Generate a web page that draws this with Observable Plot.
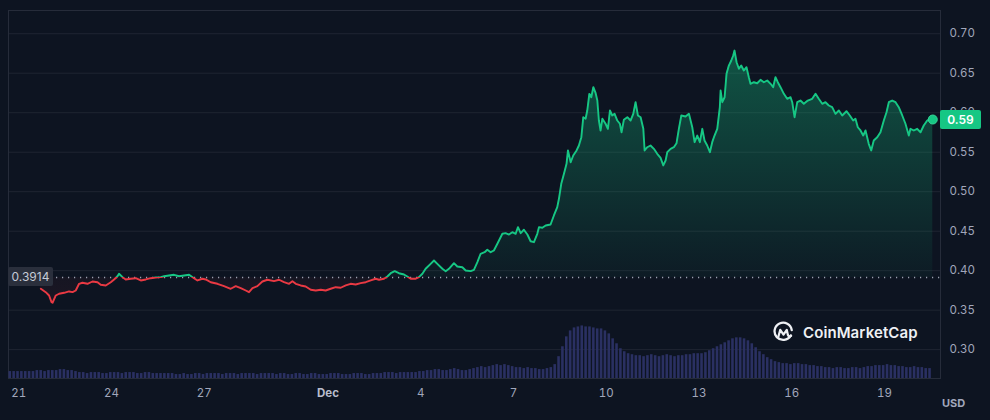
<!DOCTYPE html>
<html><head><meta charset="utf-8">
<script src="https://cdn.jsdelivr.net/npm/d3@7"></script>
<script src="https://cdn.jsdelivr.net/npm/@observablehq/plot@0.6"></script>
<style>
html,body{margin:0;padding:0;background:#0d1421;}
#chart{position:relative;width:990px;height:420px;background:#0d1421;font-family:Inter,"Noto Sans",sans-serif;overflow:hidden}
#chart svg{position:absolute;left:0;top:0}
.box{position:absolute;display:flex;align-items:center;justify-content:center;font-size:12px;border-radius:2px}
</style></head><body><div id="chart"></div>
<script>
// ---------- data ----------
const startUTC = Date.UTC(2023, 10, 21);          // Nov 21, 00:00
const windowStartHour = -8, windowEndHour = 715.5; // visible time window (hours from Nov 21)
const priceHours = [
17.1,20.9,23.5,25.4,26.2,28.7,31.3,35.2,39.0,41.7,
44.2,46.8,49.4,53.3,57.2,61.1,63.6,67.5,71.4,74.0,
76.6,77.8,80.5,83.0,86.9,90.8,94.7,98.6,102.4,106.3,
110.2,112.8,116.6,120.5,124.4,128.3,132.2,136.0,138.7,142.6,
145.1,149.0,154.2,159.3,164.5,168.4,172.3,176.2,178.7,181.4,
185.2,189.1,193.0,198.1,202.0,205.9,209.8,212.4,215.0,
218.8,222.7,226.6,230.5,234.4,238.2,242.1,246.0,249.9,253.8,
257.6,261.5,265.4,269.3,273.2,277.0,279.6,283.5,286.1,288.7,
291.8,295.1,299.0,301.6,304.2,308.1,310.6,313.3,315.8,319.7,
322.3,324.9,328.8,331.4,333.9,337.8,340.4,344.3,346.9,350.8,
353.3,356.0,358.5,361.6,363.7,366.3,368.8,371.5,375.4,377.9,
380.5,383.1,385.7,387.5,389.6,392.1,394.8,397.3,399.9,402.5,
403.8,406.4,409.0,412.8,415.4,418.0,419.3,421.1,423.2,425.2,
426.3,428.4,430.4,433.0,434.8,436.7,438.2,440.0,441.3,442.9,
444.4,446.0,447.8,449.1,450.3,451.6,453.0,455.5,457.3,458.9,
460.7,462.5,464.6,466.6,467.9,469.7,472.4,474.9,477.0,478.8,
480.6,482.7,484.8,485.8,487.9,490.4,493.0,495.6,498.2,500.3,
502.1,503.4,506.0,508.5,510.6,512.4,514.3,517.6,520.2,522.8,
524.6,526.7,528.7,530.6,532.3,534.4,536.5,538.3,540.1,542.2,
544.2,544.8,546.1,547.9,549.4,551.2,553.1,554.6,555.6,557.2,
559.0,560.8,562.8,564.9,566.7,568.0,570.6,573.2,575.8,578.4,
581.0,583.6,585.6,587.4,589.2,591.3,593.9,596.5,599.1,600.4,
602.2,604.3,606.8,609.4,612.5,615.9,618.5,621.0,623.7,626.2,
628.8,631.4,634.0,636.6,639.2,642.5,645.1,647.7,649.5,651.3,
653.4,655.5,657.3,659.8,661.7,663.7,666.4,668.9,671.5,673.6,
675.4,678.0,680.6,683.1,685.8,688.3,690.9,692.2,694.8,697.4,
700.0,702.5,705.2,707.7,709.5];
const priceValues = [
0.3771,0.3728,0.3686,0.3601,0.3594,0.3686,0.3708,0.3720,0.3737,0.3728,
0.3749,0.3834,0.3847,0.3834,0.3863,0.3854,0.3822,0.3813,0.3854,0.3889,
0.3930,0.3961,0.3918,0.3889,0.3898,0.3905,0.3876,0.3889,0.3905,0.3914,
0.3918,0.3930,0.3939,0.3948,0.3930,0.3939,0.3948,0.3905,0.3876,0.3898,
0.3889,0.3854,0.3834,0.3804,0.3771,0.3804,0.3779,0.3749,0.3728,0.3779,
0.3804,0.3863,0.3885,0.3867,0.3885,0.3854,0.3834,0.3867,0.3834,
0.3813,0.3800,0.3758,0.3749,0.3758,0.3749,0.3771,0.3791,0.3784,0.3813,
0.3834,0.3825,0.3842,0.3854,0.3876,0.3898,0.3885,0.3898,0.3927,0.3968,
0.3994,0.3968,0.3952,0.3927,0.3898,0.3898,0.3918,0.3961,0.4024,0.4087,
0.4129,0.4087,0.4024,0.3994,0.4024,0.4095,0.4053,0.4044,0.4003,0.3994,
0.4011,0.4108,0.4214,0.4234,0.4265,0.4234,0.4256,0.4341,0.4467,0.4475,
0.4458,0.4487,0.4467,0.4551,0.4475,0.4518,0.4458,0.4373,0.4361,0.4467,
0.4551,0.4543,0.4572,0.4585,0.4699,0.4804,0.4910,0.5100,0.5227,0.5353,
0.5522,0.5373,0.5458,0.5522,0.5585,0.5690,0.5943,0.5923,0.6028,0.6239,
0.6196,0.6323,0.6247,0.6154,0.5901,0.5775,0.5923,0.5860,0.5796,0.6028,
0.5965,0.5986,0.5901,0.5860,0.5753,0.5910,0.5943,0.5901,0.5986,0.6133,
0.5965,0.5943,0.5796,0.5522,0.5563,0.5585,0.5543,0.5480,0.5429,0.5332,
0.5395,0.5500,0.5543,0.5563,0.5614,0.5796,0.5965,0.5952,0.5986,0.5816,
0.5627,0.5711,0.5627,0.5796,0.5648,0.5585,0.5500,0.5627,0.5711,0.5796,
0.6070,0.6281,0.6133,0.6196,0.6492,0.6597,0.6661,0.6724,0.6787,0.6639,
0.6556,0.6597,0.6534,0.6576,0.6449,0.6366,0.6386,0.6373,0.6416,0.6386,
0.6408,0.6366,0.6323,0.6449,0.6386,0.6323,0.6239,0.6176,0.6196,0.6133,
0.5943,0.6133,0.6154,0.6113,0.6154,0.6176,0.6239,0.6176,0.6113,0.6133,
0.6091,0.6070,0.5986,0.6028,0.5965,0.6019,0.5965,0.5901,0.5923,0.5816,
0.5775,0.5711,0.5775,0.5606,0.5522,0.5648,0.5690,0.5753,0.5901,0.6006,
0.6133,0.6154,0.6133,0.6070,0.5965,0.5860,0.5711,0.5796,0.5775,0.5796,
0.5753,0.5838,0.5901,0.5923,0.5914];
const baselinePrice = 0.3914;
const lastPriceLabel = "0.59";
const volumeStartHour = -8, volumeStepHours = 3;
const volumeValues = [ // M USD per 3h
7,7,7,7,7,7,7,8,8,7,8,8,8,9,9,8,8,7,
6,6,5,6,6,6,5,5,6,6,6,5,6,6,6,5,5,6,6,5,5,5,5,5,
5,4,4,5,4,4,5,5,4,5,5,5,5,4,5,5,5,4,5,5,5,5,4,5,5,5,5,4,5,5,
4,4,5,5,4,4,5,5,4,4,4,5,5,5,4,4,4,5,5,5,4,4,
5,5,5,6,6,6,5,6,6,6,6,6,7,
7,8,8,9,9,8,8,9,10,9,8,8,9,
10,11,12,11,12,13,14,13,
14,13,12,11,11,10,11,10,
10,9,9,10,11,
14,22,32,42,
48,51,52,53,52,52,51,50,50,48,
45,40,35,30,27,
25,24,23,23,22,23,24,23,22,23,24,23,22,23,23,24,24,25,
25,25,
26,28,30,32,34,36,38,40,41,41,40,38,35,31,27,24,21,19,17,16,
15,15,14,15,15,14,14,13,13,12,12,
11,11,10,11,11,10,10,11,11,10,11,12,
12,13,13,13,14,13,13,12,
12,11,11,12,11,11,10,10];
const yTicks = [0.30,0.35,0.40,0.45,0.50,0.55,0.60,0.65,0.70];
const yDomain = [0.2635, 0.7294];
const xTickDates = ["2023-11-21","2023-11-24","2023-11-27","2023-12-01","2023-12-04","2023-12-07","2023-12-10","2023-12-13","2023-12-16","2023-12-19"];
const currencyLabel = "USD";
const brandName = "CoinMarketCap";

// ---------- build ----------
const W = 990, H = 420;
const M = {marginTop: 10, marginRight: 50, marginBottom: 42, marginLeft: 8};
const toDate = h => new Date(startUTC + h * 3600e3);
const price = priceHours.map((h, i) => ({date: toDate(h), price: priceValues[i]}));
const volume = volumeValues.map((v, i) => ({
  d1: toDate(volumeStartHour + i * volumeStepHours),
  d2: toDate(volumeStartHour + (i + 1) * volumeStepHours), v}));
const xDomain = [toDate(windowStartHour), toDate(windowEndHour)];
const xTicks = xTickDates.map(s => new Date(s + "T00:00:00Z"));
const GREEN = "#16c784", RED = "#ea3943", TXT = "#a1a7bb";

const chart = document.getElementById("chart");

const pricePlot = Plot.plot({
  width: W, height: H, ...M,
  style: {background: "transparent", color: TXT, fontFamily: "Inter, 'Noto Sans', sans-serif", fontSize: "11.5px"},
  x: {type: "utc", domain: xDomain, label: null},
  y: {domain: yDomain, label: null},
  marks: [
    Plot.ruleY(yTicks, {stroke: "#1f2532", strokeWidth: 1}),
    Plot.frame({stroke: "#262c3a"}),
    Plot.areaY(price, {x: "date", y1: () => baselinePrice, y2: "price", fill: "url(#areaGrad)"}),
    Plot.ruleY([baselinePrice], {stroke: "#9aa0b0", strokeDasharray: "1.2,4.8", strokeWidth: 1.4}),
    Plot.lineY(price, {x: "date", y: "price", stroke: "url(#lineGrad)", strokeWidth: 1.9}),
    Plot.dot(price.slice(-1), {x: "date", y: "price", r: 4.5, fill: GREEN, stroke: "#35d597", strokeWidth: 1}),
    Plot.axisY({anchor: "right", label: null, ticks: yTicks, tickSize: 0, tickPadding: 9, tickFormat: d => d.toFixed(2)}),
    Plot.axisX({label: null, ticks: xTicks, tickSize: 0, tickPadding: 10,
      tickFormat: d => d.getUTCDate() === 1 ? d3.utcFormat("%b")(d) : String(d.getUTCDate())})
  ]
});

const ys = pricePlot.scale("y");
const yb = ys.apply(baselinePrice);
const yTop = ys.apply(d3.max(priceValues));
const NS = "http://www.w3.org/2000/svg";
const defs = document.createElementNS(NS, "defs");
const fb = (yb / H).toFixed(4);
const fa = ((yb - yTop) / (H - yTop)).toFixed(4);
defs.innerHTML =
 `<linearGradient id="lineGrad" gradientUnits="userSpaceOnUse" x1="0" x2="0" y1="0" y2="${H}">
   <stop offset="0" stop-color="${GREEN}"/><stop offset="${fb}" stop-color="${GREEN}"/>
   <stop offset="${fb}" stop-color="${RED}"/><stop offset="1" stop-color="${RED}"/></linearGradient>
  <linearGradient id="areaGrad" gradientUnits="userSpaceOnUse" x1="0" x2="0" y1="${yTop}" y2="${H}">
   <stop offset="0" stop-color="${GREEN}" stop-opacity="0.36"/>
   <stop offset="${fa}" stop-color="${GREEN}" stop-opacity="0.04"/>
   <stop offset="${fa}" stop-color="${RED}" stop-opacity="0.04"/>
   <stop offset="1" stop-color="${RED}" stop-opacity="0.18"/></linearGradient>`;
pricePlot.insertBefore(defs, pricePlot.firstChild);
pricePlot.querySelectorAll('g[aria-label="x-axis tick label"] text').forEach(t => {
  if (/[A-Za-z]/.test(t.textContent)) { t.setAttribute("font-weight", "700"); t.setAttribute("fill", "#b8bdcc"); }
});
chart.appendChild(pricePlot);

const volPlot = Plot.plot({
  width: W, height: H, ...M,
  style: {background: "transparent"},
  x: {type: "utc", domain: xDomain, axis: null},
  y: {domain: [0, d3.max(volumeValues) * 7], axis: null},
  marks: [Plot.rectY(volume, {x1: "d1", x2: "d2", y: "v", fill: "#2a3062", insetLeft: 0.5, insetRight: 0.8})]
});
chart.appendChild(volPlot);

// baseline label
const bl = document.createElement("div");
bl.className = "box";
bl.textContent = baselinePrice.toFixed(4);
Object.assign(bl.style, {left: M.marginLeft + "px", top: (yb - 10) + "px", width: "45px", height: "19px",
  background: "#2a2f3c", color: "#c5cad6"});
chart.appendChild(bl);

// last price tag
const yl = ys.apply(priceValues[priceValues.length - 1]);
const pt = document.createElement("div");
pt.className = "box";
pt.textContent = lastPriceLabel;
Object.assign(pt.style, {left: (W - M.marginRight) + "px", top: (yl - 9.5) + "px", width: "41px", height: "19px",
  background: GREEN, color: "#ffffff", fontWeight: "600"});
chart.appendChild(pt);

// brand
const brand = document.createElement("div");
Object.assign(brand.style, {position: "absolute", left: "772px", top: "321px", display: "flex", alignItems: "center", gap: "8px",
  color: "#eef0f4", fontSize: "15px", fontWeight: "600", letterSpacing: "0.1px"});
brand.innerHTML = `<svg width="23" height="23" viewBox="0 0 24 24" style="position:static">
  <path d="M19.5 15.2 A9 9 0 1 1 20.6 9.5" fill="none" stroke="#eef0f4" stroke-width="2.4" stroke-linecap="round"/>
  <path d="M6.8 16 L8.6 9.2 L12 14.2 L15.4 9.2 L16.6 14.6 Q17.5 17 20 15.4" fill="none" stroke="#eef0f4" stroke-width="2.3" stroke-linejoin="round" stroke-linecap="round"/>
  </svg><span>${brandName}</span>`;
chart.appendChild(brand);

// currency
const cur = document.createElement("div");
cur.textContent = currencyLabel;
Object.assign(cur.style, {position: "absolute", left: "942px", top: "396px", color: TXT, fontSize: "11px", fontWeight: "700"});
chart.appendChild(cur);
</script>
</body></html>
